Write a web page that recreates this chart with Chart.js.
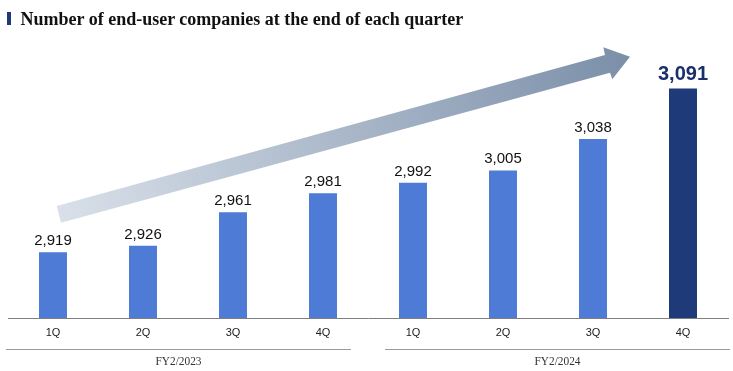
<!DOCTYPE html>
<html>
<head>
<meta charset="utf-8">
<script src="https://cdn.jsdelivr.net/npm/chart.js@4.4.1/dist/chart.umd.min.js"></script>
<style>
  html, body { margin:0; padding:0; background:#fff; }
  #wrap { position:relative; width:733px; height:371px; overflow:hidden; }
  #c { position:absolute; left:0; top:0; }
  #marker { position:absolute; left:7px; top:12px; width:3.5px; height:13px; background:#1F3A78; }
  #title { position:absolute; left:20.5px; top:10px; font:bold 18px/18px "Liberation Serif", "Times New Roman", serif; color:#111; white-space:nowrap; }
</style>
</head>
<body>
<div id="wrap">
  <canvas id="c" width="733" height="371"></canvas>
  <div id="marker"></div>
  <div id="title">Number of end-user companies at the end of each quarter</div>
</div>
<script>
const categories = ["1Q", "2Q", "3Q", "4Q", "1Q", "2Q", "3Q", "4Q"];
const companies = [2919, 2926, 2961, 2981, 2992, 3005, 3038, 3091];
const fiscalYears = ["FY2/2023", "FY2/2024"];
const valueLabels = ["2,919", "2,926", "2,961", "2,981", "2,992", "3,005", "3,038", "3,091"];

const LIGHT = "#4E7BD5";
const DARK = "#1F3A78";
const barColors = companies.map((v, i) => i === companies.length - 1 ? DARK : LIGHT);

const decoPlugin = {
  id: "deco",
  beforeDatasetsDraw(chart) {
    const ctx = chart.ctx;
    // trend arrow (decorative)
    const pts = [[56.7,206],[605,55],[603.3,47.3],[630,56.7],[612.3,79.3],[610,72.7],[61,222.7]];
    const g = ctx.createLinearGradient(58, 214, 630, 57);
    g.addColorStop(0, "#D9E0E9");
    g.addColorStop(1, "#7B8FA9");
    ctx.save();
    ctx.beginPath();
    pts.forEach((p, i) => i ? ctx.lineTo(p[0], p[1]) : ctx.moveTo(p[0], p[1]));
    ctx.closePath();
    ctx.fillStyle = g;
    ctx.fill();
    ctx.restore();
  },
  afterDatasetsDraw(chart) {
    const ctx = chart.ctx;
    const meta = chart.getDatasetMeta(0);
    ctx.save();
    ctx.textAlign = "center";
    ctx.textBaseline = "alphabetic";
    meta.data.forEach((bar, i) => {
      const last = i === companies.length - 1;
      ctx.font = last ? "bold 20px 'Liberation Sans', Arial, sans-serif" : "15px 'Liberation Sans', Arial, sans-serif";
      ctx.fillStyle = last ? "#1A2F6B" : "#111";
      ctx.fillText(valueLabels[i], bar.x, bar.y - (last ? 9 : 7));
    });
    // fiscal year group lines and labels
    const area = chart.chartArea;
    const groups = [[area.left - 2, area.left + 343], [area.right - 343, area.right + 2]];
    ctx.strokeStyle = "#9A9A9A";
    ctx.lineWidth = 1;
    groups.forEach((g, i) => {
      ctx.beginPath();
      ctx.moveTo(g[0], 349.5);
      ctx.lineTo(g[1], 349.5);
      ctx.stroke();
      ctx.font = "12.5px 'Liberation Serif', 'Times New Roman', serif";
      ctx.fillStyle = "#333";
      const w = ctx.measureText(fiscalYears[i]).width;
      const sx = 46 / w;
      const cx = (g[0] + g[1]) / 2;
      ctx.save();
      ctx.translate(cx, 365);
      ctx.scale(sx, 1);
      ctx.textAlign = "center";
      ctx.fillText(fiscalYears[i], 0, 0);
      ctx.restore();
    });
    ctx.restore();
  }
};

new Chart(document.getElementById("c"), {
  type: "bar",
  data: {
    labels: categories,
    datasets: [{
      data: companies,
      backgroundColor: barColors,
      borderWidth: 0,
      categoryPercentage: 1,
      barPercentage: 0.311
    }]
  },
  options: {
    responsive: false,
    animation: false,
    devicePixelRatio: 1,
    layout: { padding: { left: 8, right: 5, top: 40, bottom: 0 } },
    plugins: { legend: { display: false }, tooltip: { enabled: false }, title: { display: false } },
    scales: {
      y: { display: false, min: 2850, max: 3142 },
      x: {
        grid: { display: false },
        border: { display: true, color: "#7F7F7F", width: 1 },
        ticks: { color: "#222", font: { family: "'Liberation Sans', Arial, sans-serif", size: 11 }, padding: 0, maxRotation: 0 },
        afterFit(scale) { scale.height = 53; }
      }
    }
  },
  plugins: [decoPlugin]
});
</script>
</body>
</html>
